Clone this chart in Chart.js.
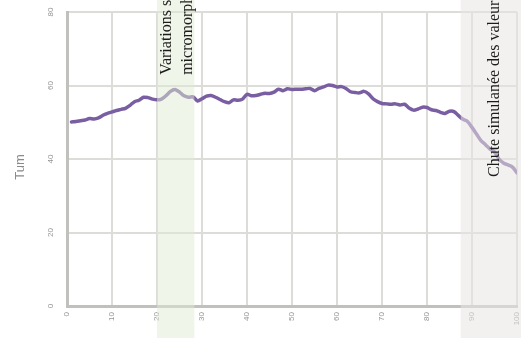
<!DOCTYPE html>
<html>
<head>
<meta charset="utf-8">
<script src="https://cdn.jsdelivr.net/npm/chart.js@4/dist/chart.umd.min.js"></script>
<style>
html,body{margin:0;padding:0;background:#fff;}
#wrap{width:521px;height:338px;position:relative;}
</style>
</head>
<body>
<div id="wrap"><canvas id="c" width="521" height="338"></canvas></div>
<script>
const xValues = [1,2,3,4,5,6,7,8,9,10,11,12,13,14,15,16,17,18,19,20,21,22,23,24,25,26,27,28,29,30,31,32,33,34,35,36,37,38,39,40,41,42,43,44,45,46,47,48,49,50,51,52,53,54,55,56,57,58,59,60,61,62,63,64,65,66,67,68,69,70,71,72,73,74,75,76,77,78,79,80,81,82,83,84,85,86,87,88,89,90,91,92,93,94,95,96,97,98,99,100];
const tumValues = [50.1,50.2,50.4,50.6,51.0,50.9,51.2,51.9,52.4,52.8,53.2,53.5,53.8,54.6,55.6,56.0,56.8,56.7,56.3,56.1,56.3,57.2,58.4,58.9,58.2,57.2,56.8,56.9,55.8,56.4,57.1,57.3,56.8,56.2,55.6,55.3,56.1,56.0,56.3,57.6,57.2,57.3,57.6,57.9,57.8,58.2,59.0,58.6,59.1,58.9,59.0,59.0,59.1,59.2,58.6,59.2,59.6,60.1,60.0,59.6,59.7,59.2,58.3,58.1,58.0,58.4,57.7,56.4,55.6,55.1,55.0,54.9,55.0,54.7,54.9,53.9,53.3,53.6,54.1,54.0,53.4,53.2,52.7,52.4,53.0,52.9,51.8,50.8,50.2,48.6,46.8,45.0,43.9,42.7,41.9,40.0,38.9,38.4,37.8,36.2];
const yTicks = [0,20,40,60,80];
const xTicks = [0,10,20,30,40,50,60,70,80,90,100];
const yTitle = 'Tum';
const bandRanges = [[20,28.3],[87.5,101]];
const bandLabels = [["Variations saisonnières et", "micromorphologiques"], ["Chute simulanée des valeurs"]];

const overlayPlugin = {
  id: 'overlay',
  afterDatasetsDraw(chart) {
    const ctx = chart.ctx;
    const xs = chart.scales.x, ys = chart.scales.y;
    const fills = ['rgba(223,236,210,0.5)', 'rgba(232,230,226,0.55)'];
    ctx.save();
    bandRanges.forEach((r, i) => {
      const x1 = xs.getPixelForValue(r[0]);
      const x2 = i === 1 ? chart.width : xs.getPixelForValue(r[1]);
      ctx.fillStyle = fills[i];
      ctx.fillRect(x1, 0, x2 - x1, chart.height);
    });
    ctx.fillStyle = '#1c1c1c';
    ctx.font = '16px "Liberation Serif", "Times New Roman", serif';
    ctx.textAlign = 'left';
    ctx.textBaseline = 'alphabetic';
    const g0 = xs.getPixelForValue(bandRanges[0][0]);
    const startY1 = ys.getPixelForValue(62.9);
    [13.5, 35].forEach((off, k) => {
      ctx.save();
      ctx.translate(g0 + off, startY1);
      ctx.rotate(-Math.PI / 2);
      ctx.fillText(bandLabels[0][k], 0, 0);
      ctx.restore();
    });
    const g1 = xs.getPixelForValue(bandRanges[1][0]);
    ctx.save();
    ctx.translate(g1 + 38.5, ys.getPixelForValue(35.1));
    ctx.rotate(-Math.PI / 2);
    ctx.fillText(bandLabels[1][0], 0, 0);
    ctx.restore();
    ctx.restore();
  },
  afterDraw(chart) {
    const ctx = chart.ctx;
    const ys = chart.scales.y;
    ctx.save();
    ctx.fillStyle = '#959595';
    ctx.font = '8px "Liberation Sans", Arial, sans-serif';
    ctx.textAlign = 'center';
    ctx.textBaseline = 'middle';
    yTicks.forEach(v => {
      ctx.save();
      ctx.translate(50.5, ys.getPixelForValue(v));
      ctx.rotate(-Math.PI / 2);
      ctx.fillText(String(v), 0, 0);
      ctx.restore();
    });
    ctx.fillStyle = '#8a8a8a';
    ctx.font = '13px "Liberation Sans", Arial, sans-serif';
    ctx.save();
    ctx.translate(20, 167);
    ctx.rotate(-Math.PI / 2);
    ctx.fillText(yTitle, 0, 0);
    ctx.restore();
    ctx.restore();
  }
};

new Chart(document.getElementById('c'), {
  type: 'line',
  data: {
    datasets: [{
      data: xValues.map((x, i) => ({x: x, y: tumValues[i]})),
      borderColor: 'rgb(122,94,162)',
      borderWidth: 3.5,
      pointRadius: 0,
      tension: 0.3,
      fill: false,
      borderCapStyle: 'round',
      borderJoinStyle: 'round'
    }]
  },
  options: {
    responsive: false,
    animation: false,
    events: [],
    layout: {padding: {left: 0, top: 12, right: 4, bottom: 0}},
    plugins: {legend: {display: false}, tooltip: {enabled: false}},
    scales: {
      x: {
        type: 'linear',
        min: 0, max: 100,
        afterBuildTicks: s => { s.ticks = xTicks.map(v => ({value: v})); },
        afterFit: s => { s.height = 32; s.paddingLeft = 0; s.paddingRight = 0; },
        grid: {color: '#dcdcd8', lineWidth: 2, drawTicks: false},
        border: {color: '#c0c0bc', width: 3},
        ticks: {
          minRotation: 90, maxRotation: 90, padding: 6,
          color: '#959595',
          font: {size: 8, family: '"Liberation Sans", Arial, sans-serif'}
        }
      },
      y: {
        min: 0, max: 80,
        afterBuildTicks: s => { s.ticks = yTicks.map(v => ({value: v})); },
        afterFit: s => { s.width = 67; s.paddingTop = 0; s.paddingBottom = 0; },
        grid: {color: '#dcdcd8', lineWidth: 2, drawTicks: false},
        border: {color: '#c0c0bc', width: 3},
        ticks: {display: false}
      }
    }
  },
  plugins: [overlayPlugin]
});
</script>
</body>
</html>
